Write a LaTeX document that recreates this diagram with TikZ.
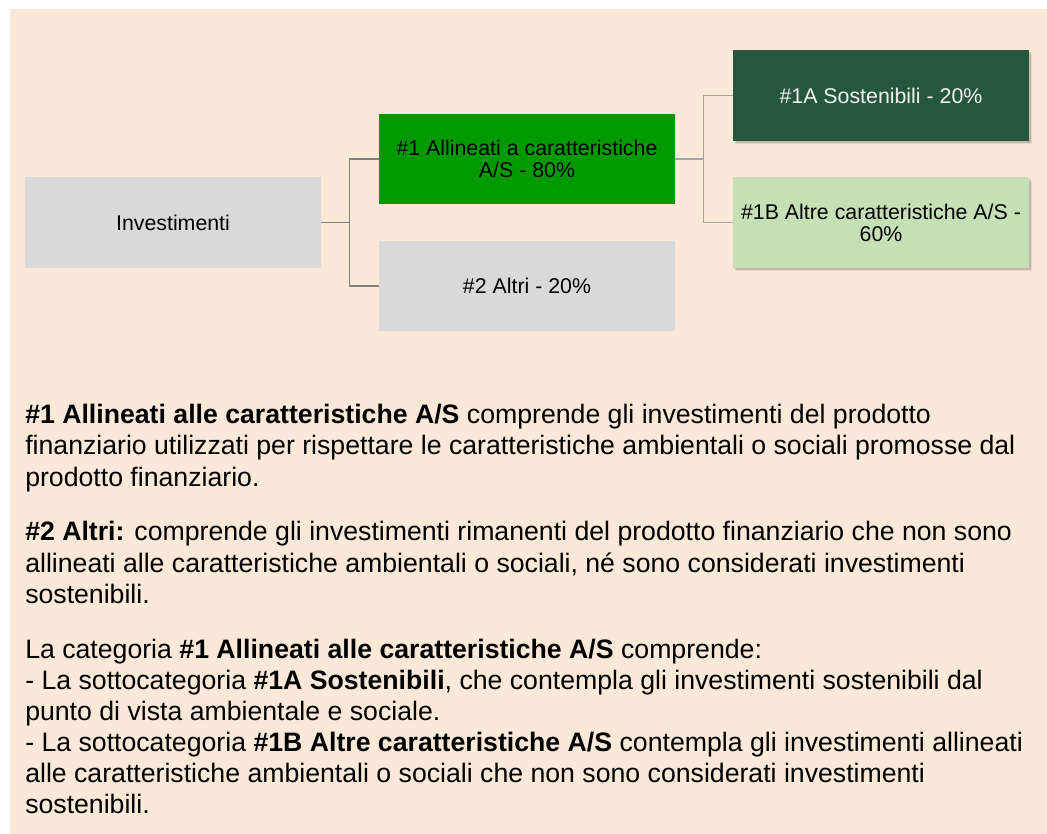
\documentclass[tikz,border=0pt]{standalone}
\usepackage{fontspec}
\setmainfont{Liberation Sans}
\usetikzlibrary{shadows,calc}
\definecolor{bgbeige}{HTML}{FAE8D8}
\definecolor{boxgray}{HTML}{D9D9D9}
\definecolor{brightgreen}{HTML}{009900}
\definecolor{darkgreen}{HTML}{25573A}
\definecolor{lightgreen}{HTML}{C5E0B4}
\definecolor{lineA}{HTML}{7F7F7F}
\definecolor{lineB}{HTML}{A5A5A5}
\definecolor{whitetext}{HTML}{F2F2F2}
\begin{document}
\begin{tikzpicture}[x=0.75pt,y=-0.75pt,
  catbox/.style={minimum width=222pt,minimum height=68pt,inner sep=2pt,align=center,
    font=\fontsize{16}{16.5}\selectfont,text=black},
  shadowbox/.style={catbox,
    drop shadow={shadow xshift=2.2pt,shadow yshift=-2.6pt,opacity=0.08,fill=black},
    drop shadow={shadow xshift=1.2pt,shadow yshift=-1.6pt,opacity=0.14,fill=black}},
  linkA/.style={draw=lineA,line width=1.1pt},
  linkB/.style={draw=lineB,line width=1.1pt},
  para/.style={anchor=base west,inner sep=0pt,font=\fontsize{20}{23.25}\selectfont,text=black}]
\useasboundingbox (0,0) rectangle (1047,834);
\fill[bgbeige] (10,9) rectangle (1047,834);

\node[catbox,fill=boxgray] (inv) at (173,222.5) {Investimenti};
\node[catbox,fill=brightgreen] (a1) at (527,159) {\#1 Allineati a caratteristiche\\A/S - 80\%};
\node[catbox,fill=boxgray] (a2) at (527,286) {\#2 Altri - 20\%};
\node[shadowbox,fill=darkgreen,text=whitetext] (s1) at (881,95.5) {\#1A Sostenibili - 20\%};
\node[shadowbox,fill=lightgreen] (s2) at (881,222.5) {\#1B Altre caratteristiche A/S -\\60\%};

\coordinate (j1) at ($(inv.east)+(28,0)$);
\coordinate (j2) at ($(a1.east)+(28,0)$);
\draw[linkA] (inv.east) -- (j1);
\draw[linkA] (a1.west) -| (j1);
\draw[linkA] (a2.west) -| (j1);
\draw[linkB] (a1.east) -- (j2);
\draw[linkB] (s1.west) -| (j2);
\draw[linkB] (s2.west) -| (j2);

\node[para] (p1) at (25,424) {\textbf{\#1 Allineati alle caratteristiche A/S} comprende gli investimenti del prodotto};
\node[para] (p2) at (25,455) {finanziario utilizzati per rispettare le caratteristiche ambientali o sociali promosse dal};
\node[para] (p3) at (25,486) {prodotto finanziario.};
\node[para] (p4) at (25,541) {\textbf{\#2 Altri:} comprende gli investimenti rimanenti del prodotto finanziario che non sono};
\node[para] (p5) at (25,572) {allineati alle caratteristiche ambientali o sociali, né sono considerati investimenti};
\node[para] (p6) at (25,603) {sostenibili.};
\node[para] (p7) at (25,658) {La categoria \textbf{\#1 Allineati alle caratteristiche A/S} comprende:};
\node[para] (p8) at (25,689) {- La sottocategoria \textbf{\#1A Sostenibili}, che contempla gli investimenti sostenibili dal};
\node[para] (p9) at (25,720) {punto di vista ambientale e sociale.};
\node[para] (p10) at (25,751) {- La sottocategoria \textbf{\#1B Altre caratteristiche A/S} contempla gli investimenti allineati};
\node[para] (p11) at (25,782) {alle caratteristiche ambientali o sociali che non sono considerati investimenti};
\node[para] (p12) at (25,813) {sostenibili.};
\end{tikzpicture}
\end{document}
